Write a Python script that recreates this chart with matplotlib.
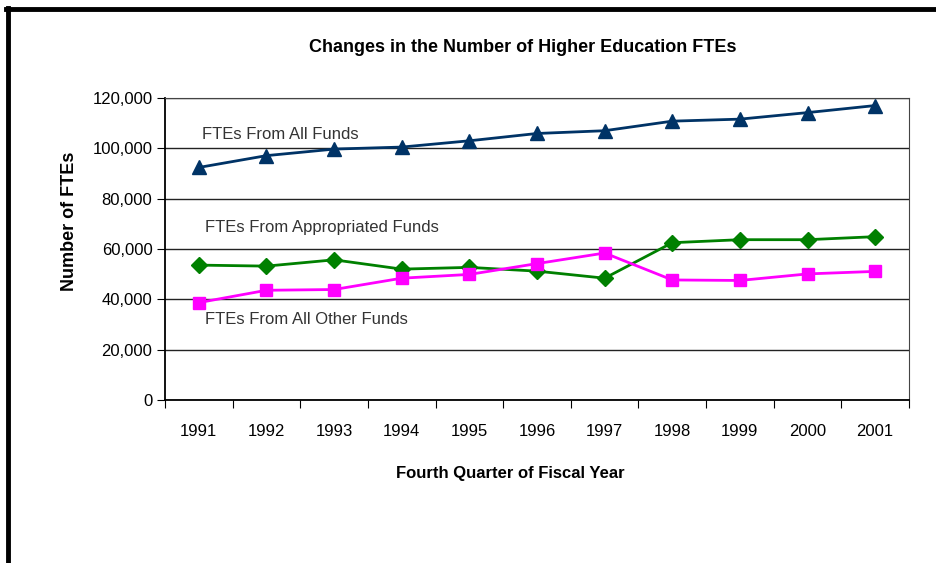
import matplotlib.pyplot as plt
from matplotlib.lines import Line2D
from matplotlib.ticker import FuncFormatter

years = ["1991", "1992", "1993", "1994", "1995", "1996",
         "1997", "1998", "1999", "2000", "2001"]
all_funds = [92400, 97100, 99700, 100500, 103000, 105900,
             107000, 110800, 111600, 114200, 117000]
appropriated = [53600, 53200, 55700, 52000, 52700, 51200,
                48400, 62500, 63700, 63700, 64900]
other_funds = [38700, 43600, 43900, 48400, 49900, 54200,
               58400, 47700, 47500, 50100, 51100]

plt.rcParams['font.family'] = ['Liberation Sans', 'DejaVu Sans']

fig = plt.figure(figsize=(9.36, 5.63), dpi=100)
ax = fig.add_axes([165 / 936, 1 - 400 / 563, 744 / 936, 302 / 563])

x = list(range(len(years)))
ax.plot(x, all_funds, color="#003366", lw=2, marker="^", ms=10)
ax.plot(x, appropriated, color="#008000", lw=2, marker="D", ms=8)
ax.plot(x, other_funds, color="#ff00ff", lw=2, marker="s", ms=9)

ax.set_xlim(-0.5, len(years) - 0.5)
ax.set_ylim(0, 120000)
ax.set_yticks(range(0, 120001, 20000))
ax.yaxis.set_major_formatter(FuncFormatter(lambda v, p: f"{int(v):,}"))
# ticks sit between the years, labels in the middle
ax.set_xticks([i - 0.5 for i in range(len(years) + 1)])
ax.set_xticklabels([])
ax.set_xticks(x, minor=True)
ax.set_xticklabels(years, minor=True)
ax.tick_params(axis="x", which="minor", length=0, pad=17.5, labelsize=12)
ax.tick_params(axis="x", which="major", length=6, direction="out")
ax.tick_params(axis="y", length=6, labelsize=12, pad=3)
ax.grid(axis="y", color="#222222", lw=1)
ax.set_axisbelow(True)
for side in ["top", "right"]:
    ax.spines[side].set_color("#444444")
for side in ["left", "bottom"]:
    ax.spines[side].set_linewidth(1.3)

ax.set_ylabel("Number of FTEs", fontsize=13, fontweight="bold")
ax.yaxis.set_label_coords(-0.117, 0.593)
ax.set_xlabel("Fourth Quarter of Fiscal Year", fontsize=12, fontweight="bold")
ax.xaxis.set_label_coords(0.464, -0.219)

ax.text(0.05, 105300, "FTEs From All Funds", fontsize=12, color="#333333",
        va="center")
ax.text(0.09, 68700, "FTEs From Appropriated Funds", fontsize=12,
        color="#333333", va="center")
ax.text(0.09, 31800, "FTEs From All Other Funds", fontsize=12,
        color="#333333", va="center")

fig.text(523 / 936, 1 - 47 / 563,
         "Changes in the Number of Higher Education FTEs",
         ha="center", va="center", fontsize=13, fontweight="bold")

# frame around the chart
fig.add_artist(Line2D([8 / 936, 8 / 936], [0, 1 - 8 / 563],
                      transform=fig.transFigure, color="black", lw=3.5))
fig.add_artist(Line2D([6 / 936, 1], [1 - 9 / 563, 1 - 9 / 563],
                      transform=fig.transFigure, color="black", lw=3.5))

fig.savefig("out.png", dpi=100)
